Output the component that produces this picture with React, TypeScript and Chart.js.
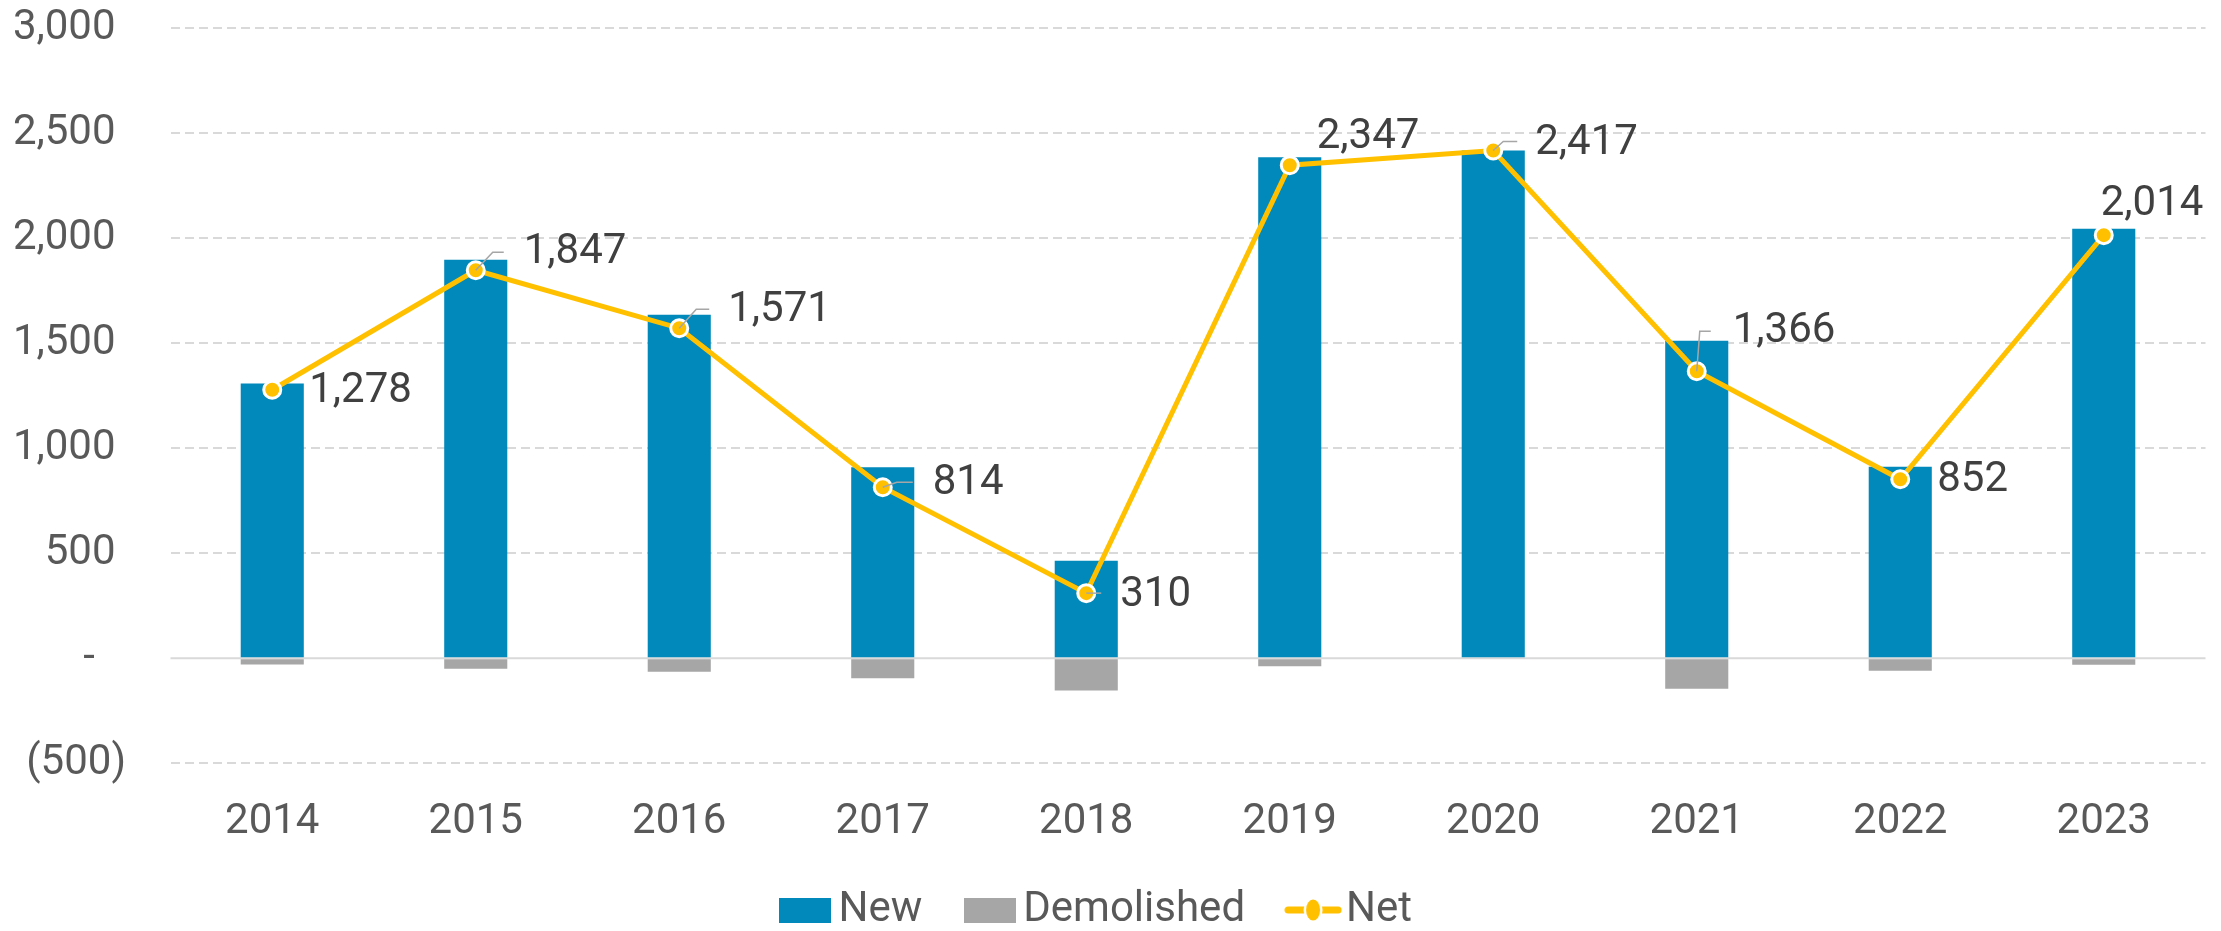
import React, { useEffect, useRef } from 'react';
import { Chart, registerables } from 'chart.js';

Chart.register(...registerables);

// ---- data ----
const years = ['2014', '2015', '2016', '2017', '2018', '2019', '2020', '2021', '2022', '2023'];
const newUnits = [1308, 1897, 1635, 909, 464, 2385, 2417, 1511, 912, 2045];
const demolished = [-30, -50, -64, -95, -154, -38, 0, -145, -60, -31];
const net = [1278, 1847, 1571, 814, 310, 2347, 2417, 1366, 852, 2014];
const yMin = -500;
const yMax = 3000;
const yStep = 500;

// ---- label placement (style, relative to each Net point) ----
const labelOffsets: [number, number][] = [
  [37, 2], [48, -18], [49, -18], [50, -4], [34, 2],
  [27, -28], [42, -7], [36, -40], [37, 1], [-3, -31],
];
const leaders: (number[] | null)[] = [
  null, [17, -18, 28, -18], [17, -19, 30, -19], [14, -5, 30, -5], [15, 0, 15, 0],
  null, [10, -9, 24, -9], [3, -40, 14, -40], null, null,
];

// ---- style ----
const FAMILY = "Roboto, 'Noto Sans', sans-serif";
const BLUE = '#0089BA';
const GRAY = '#A6A6A6';
const YELLOW = '#FFC000';
const AXIS_TEXT = '#595959';
const LABEL_TEXT = '#404040';
const GRID = '#D9D9D9';
const LEADER = '#A6A6A6';
const FONT_SIZE = 42;

const fmt = (v: number) => v.toLocaleString('en-US');
const fmtAxis = (v: number) =>
  v > 0 ? fmt(v) + ' ' : v < 0 ? `(${fmt(-v)})` : '-   ';

function makeIcon(w: number, h: number, draw: (g: CanvasRenderingContext2D) => void) {
  const c = document.createElement('canvas');
  c.width = w;
  c.height = h;
  draw(c.getContext('2d') as CanvasRenderingContext2D);
  return c;
}

export default function App() {
  const ref = useRef<HTMLCanvasElement>(null);

  useEffect(() => {
    document.body.style.margin = '0';
    const canvas = ref.current;
    if (!canvas) return;

    const blueIcon = makeIcon(52, 25, (g) => {
      g.fillStyle = BLUE;
      g.fillRect(0, 0, 52, 25);
    });
    const grayIcon = makeIcon(52, 25, (g) => {
      g.fillStyle = GRAY;
      g.fillRect(0, 0, 52, 25);
    });
    const netIcon = makeIcon(58, 26, (g) => {
      g.strokeStyle = YELLOW;
      g.lineWidth = 7;
      g.lineCap = 'round';
      g.beginPath();
      g.moveTo(4, 13);
      g.lineTo(54, 13);
      g.stroke();
      g.fillStyle = '#ffffff';
      g.beginPath();
      g.ellipse(29, 13, 9.5, 12.5, 0, 0, Math.PI * 2);
      g.fill();
      g.fillStyle = YELLOW;
      g.beginPath();
      g.ellipse(29, 13, 7, 10.5, 0, 0, Math.PI * 2);
      g.fill();
    });
    const icons = [blueIcon, grayIcon, netIcon];

    const zeroLine = {
      id: 'zeroLine',
      beforeDatasetsDraw(chart: any) {
        const { ctx, chartArea } = chart;
        const y = chart.scales.y.getPixelForValue(0);
        ctx.save();
        ctx.strokeStyle = GRID;
        ctx.lineWidth = 2;
        ctx.beginPath();
        ctx.moveTo(chartArea.left, y);
        ctx.lineTo(chartArea.right, y);
        ctx.stroke();
        ctx.restore();
      },
    };

    const dataLabels = {
      id: 'dataLabels',
      afterDatasetsDraw(chart: any) {
        const ctx = chart.ctx;
        const meta = chart.getDatasetMeta(2);
        ctx.save();
        meta.data.forEach((pt: any, i: number) => {
          const { x, y } = pt.getProps(['x', 'y'], true);
          const ld = leaders[i];
          if (ld) {
            ctx.strokeStyle = LEADER;
            ctx.lineWidth = 1.5;
            ctx.beginPath();
            ctx.moveTo(x, y);
            ctx.lineTo(x + ld[0], y + ld[1]);
            ctx.lineTo(x + ld[2], y + ld[3]);
            ctx.stroke();
          }
          const [dx, dy] = labelOffsets[i];
          ctx.font = `${FONT_SIZE}px ${FAMILY}`;
          ctx.fillStyle = LABEL_TEXT;
          ctx.textAlign = 'left';
          ctx.textBaseline = 'middle';
          ctx.fillText(fmt(net[i]), x + dx, y + dy);
        });
        ctx.restore();
      },
    };

    const chart = new Chart(canvas, {
      type: 'bar',
      data: {
        labels: years,
        datasets: [
          {
            type: 'bar',
            label: 'New',
            data: newUnits,
            backgroundColor: BLUE,
            stack: 'units',
            barPercentage: 0.31,
            categoryPercentage: 1,
            order: 1,
          },
          {
            type: 'bar',
            label: 'Demolished',
            data: demolished,
            backgroundColor: GRAY,
            stack: 'units',
            barPercentage: 0.31,
            categoryPercentage: 1,
            order: 1,
          },
          {
            type: 'line',
            label: 'Net',
            data: net,
            borderColor: YELLOW,
            backgroundColor: YELLOW,
            borderWidth: 5,
            pointRadius: 8.5,
            pointBorderWidth: 3,
            pointBackgroundColor: YELLOW,
            pointBorderColor: '#ffffff',
            tension: 0,
            stack: 'net',
            order: -1,
          } as any,
        ],
      },
      options: {
        responsive: true,
        maintainAspectRatio: false,
        animation: false,
        layout: { padding: { top: 28, right: 15.5, bottom: -10, left: 0 } },
        scales: {
          x: {
            stacked: true,
            grid: { display: false, drawTicks: false },
            border: { display: false },
            ticks: {
              color: AXIS_TEXT,
              font: { family: FAMILY, size: FONT_SIZE },
              padding: 34,
            },
            afterFit: (s: any) => {
              s.height = 69.7;
            },
          },
          y: {
            stacked: true,
            min: yMin,
            max: yMax,
            ticks: {
              stepSize: yStep,
              color: AXIS_TEXT,
              font: { family: FAMILY, size: FONT_SIZE },
              padding: 44.5,
              callback: (v: any) => fmtAxis(Number(v)),
            },
            grid: {
              drawTicks: false,
              lineWidth: 2,
              color: (c: any) => (c.tick && c.tick.value === 0 ? 'rgba(0,0,0,0)' : GRID),
            },
            border: { display: false, dash: [9, 5] },
            afterFit: (s: any) => {
              s.width = 170.5;
              s.paddingTop = 0;
              s.paddingBottom = 0;
            },
          },
        },
        plugins: {
          tooltip: { enabled: false },
          legend: {
            position: 'bottom',
            labels: {
              usePointStyle: true,
              pointStyleWidth: 24,
              padding: 56,
              color: AXIS_TEXT,
              font: { family: FAMILY, size: FONT_SIZE },
              generateLabels: (ch: any) => {
                const items = (Chart.defaults.plugins.legend.labels as any).generateLabels(ch);
                items.sort((a: any, b: any) => a.datasetIndex - b.datasetIndex);
                items.forEach((it: any) => {
                  it.pointStyle = icons[it.datasetIndex];
                });
                return items;
              },
            },
          },
        },
      } as any,
      plugins: [zeroLine, dataLabels],
    });

    return () => chart.destroy();
  }, []);

  return (
    <div style={{ width: 2221, height: 931, position: 'relative' }}>
      <canvas ref={ref} />
    </div>
  );
}
